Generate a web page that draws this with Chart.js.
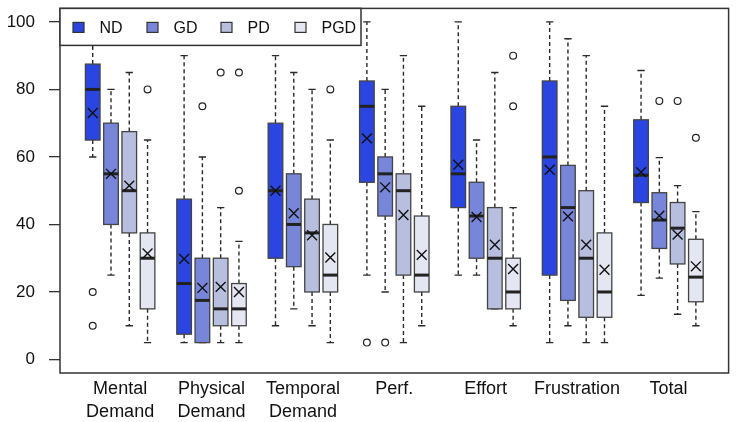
<!DOCTYPE html>
<html>
<head>
<meta charset="utf-8">
<script src="https://cdn.jsdelivr.net/npm/chart.js@4.4.1/dist/chart.umd.min.js"></script>
<style>
  html, body { margin: 0; padding: 0; background: #fff; }
  #wrap { width: 737px; height: 422px; }
</style>
</head>
<body>
<div id="wrap"><canvas id="chart" width="737" height="422"></canvas></div>
<script>
// categories (x axis, two-line labels)
const categories = [
    ['Mental', 'Demand'], ['Physical', 'Demand'], ['Temporal', 'Demand'],
    ['Perf.'], ['Effort'], ['Frustration'], ['Total']
];
const seriesNames = ['ND', 'GD', 'PD', 'PGD'];
const seriesColors = ['#2b46e0', '#7886d9', '#b8bede', '#e4e6f2'];
const yTicks = [0, 20, 40, 60, 80, 100];

// box stats per category: [lower whisker, Q1, median, Q3, upper whisker]
const ndBoxes = [
    [60, 65, 80, 87.5, 100], [5, 7.5, 22.5, 47.5, 90], [10, 30, 50, 70, 90],
    [25, 52.5, 75, 82.5, 100], [25, 45, 55, 75, 100], [5, 25, 60, 82.5, 100],
    [19, 46.5, 54.6, 71, 85.6]
];
const gdBoxes = [
    [25, 40, 55, 70, 80], [5, 5, 17.5, 30, 60], [15, 27.5, 40, 55, 85],
    [20, 42.5, 55, 60, 80], [25, 30, 42.5, 52.5, 65], [10, 17.5, 45, 57.5, 95],
    [24.1, 32.9, 41.3, 49.4, 59.8]
];
const pdBoxes = [
    [10, 37.5, 50, 67.5, 85], [5, 10, 15, 30, 45], [10, 20, 37.5, 47.5, 80],
    [5, 25, 50, 55, 90], [15, 15, 30, 45, 85], [5, 12.5, 30, 50, 90],
    [13.4, 28.3, 38.9, 46.5, 51.5]
];
const pgdBoxes = [
    [5, 15, 30, 37.5, 65], [5, 10, 15, 22.5, 35], [5, 20, 25, 40, 65],
    [10, 20, 25, 42.5, 75], [10, 15, 20, 30, 45], [5, 12.5, 20, 37.5, 75],
    [10, 17.1, 24.4, 35.6, 43.8]
];

// means per category
const ndMeans = [73, 29.8, 50, 65.5, 57.7, 56.2, 55.5];
const gdMeans = [55, 21.2, 43.3, 51, 42.2, 42.4, 42.6];
const pdMeans = [51.5, 21.5, 36.8, 42.8, 34, 34, 37];
const pgdMeans = [31.4, 20, 30.2, 31, 26.8, 26.6, 27.6];

// outliers per category
const ndOutliers = [[20, 10], [], [], [5], [], [], []];
const gdOutliers = [[], [75], [], [5], [], [], [76.6]];
const pdOutliers = [[], [85], [], [], [], [], [76.6]];
const pgdOutliers = [[80], [85, 50], [80], [], [90, 75], [], [65.7]];

const allBoxes = [ndBoxes, gdBoxes, pdBoxes, pgdBoxes];
const allMeans = [ndMeans, gdMeans, pdMeans, pgdMeans];
const allOutliers = [ndOutliers, gdOutliers, pdOutliers, pgdOutliers];

const boxHalf = 0.4;

// position on the x scale: 4 boxes per group, one empty slot between groups
function boxPos(g, s) {
    return g * 5 + s + 1;
}

const groupCenters = categories.map(function(c, g) { return g * 5 + 2.5; });

// scatter datasets for means and outliers
const datasets = [];
allMeans.forEach(function(means, s) {
    datasets.push({
        label: seriesNames[s] + ' mean',
        data: means.map(function(m, g) { return { x: boxPos(g, s), y: m }; }),
        pointStyle: 'crossRot',
        pointRadius: 7,
        borderColor: '#111',
        borderWidth: 1.4,
        backgroundColor: 'transparent'
    });
});
allOutliers.forEach(function(outs, s) {
    const pts = [];
    outs.forEach(function(list, g) {
        list.forEach(function(v) { pts.push({ x: boxPos(g, s), y: v }); });
    });
    datasets.push({
        label: seriesNames[s] + ' outliers',
        data: pts,
        pointStyle: 'circle',
        pointRadius: 3.4,
        borderColor: '#222',
        borderWidth: 1.2,
        backgroundColor: '#fff'
    });
});

const boxPlugin = {
    id: 'boxes',
    beforeDatasetsDraw(chart) {
        const ctx = chart.ctx;
        const x = chart.scales.x, y = chart.scales.y;
        ctx.save();
        allBoxes.forEach(function(boxes, s) {
            boxes.forEach(function(b, g) {
                const pos = boxPos(g, s);
                const cx = x.getPixelForValue(pos);
                const left = x.getPixelForValue(pos - boxHalf);
                const right = x.getPixelForValue(pos + boxHalf);
                const capHalf = (right - left) / 4;
                const lo = y.getPixelForValue(b[0]);
                const q1 = y.getPixelForValue(b[1]);
                const med = y.getPixelForValue(b[2]);
                const q3 = y.getPixelForValue(b[3]);
                const hi = y.getPixelForValue(b[4]);

                // whiskers
                ctx.strokeStyle = '#2a2a2a';
                ctx.lineWidth = 1.4;
                ctx.setLineDash([4, 3]);
                ctx.beginPath();
                ctx.moveTo(cx, q3); ctx.lineTo(cx, hi);
                ctx.moveTo(cx, q1); ctx.lineTo(cx, lo);
                ctx.stroke();
                ctx.setLineDash([]);
                ctx.beginPath();
                ctx.moveTo(cx - capHalf, hi); ctx.lineTo(cx + capHalf, hi);
                ctx.moveTo(cx - capHalf, lo); ctx.lineTo(cx + capHalf, lo);
                ctx.stroke();

                // box
                ctx.fillStyle = seriesColors[s];
                ctx.fillRect(left, q3, right - left, q1 - q3);
                ctx.strokeStyle = '#444';
                ctx.lineWidth = 1.3;
                ctx.strokeRect(left, q3, right - left, q1 - q3);

                // median
                ctx.strokeStyle = '#222';
                ctx.lineWidth = 3;
                ctx.beginPath();
                ctx.moveTo(left, med); ctx.lineTo(right, med);
                ctx.stroke();
            });
        });
        ctx.restore();
    },
    afterDatasetsDraw(chart) {
        const ctx = chart.ctx;
        const area = chart.chartArea;
        ctx.save();
        // frame
        ctx.strokeStyle = '#333';
        ctx.lineWidth = 1.5;
        ctx.strokeRect(area.left, area.top, area.right - area.left, area.bottom - area.top);

        // legend box, top left inside the plot
        const lx = area.left, ly = area.top, lw = 301, lh = 37;
        ctx.fillStyle = '#fff';
        ctx.fillRect(lx, ly, lw, lh);
        ctx.strokeRect(lx, ly, lw, lh);
        ctx.font = '16px "Liberation Sans", Arial, sans-serif';
        ctx.textBaseline = 'middle';
        seriesNames.forEach(function(name, i) {
            const sx = lx + 13 + i * 74;
            const sy = ly + 19;
            ctx.fillStyle = seriesColors[i];
            ctx.fillRect(sx, sy - 5, 11, 10);
            ctx.strokeStyle = '#333';
            ctx.lineWidth = 1.2;
            ctx.strokeRect(sx, sy - 5, 11, 10);
            ctx.fillStyle = '#111';
            ctx.fillText(name, sx + 26.5, sy + 1);
        });
        ctx.restore();
    }
};

new Chart(document.getElementById('chart'), {
    type: 'scatter',
    data: { datasets: datasets },
    options: {
        responsive: false,
        animation: false,
        layout: { padding: { top: 2, right: 1, left: 0, bottom: 0 } },
        plugins: {
            legend: { display: false },
            tooltip: { enabled: false }
        },
        scales: {
            x: {
                type: 'linear',
                min: -0.79,
                max: 35.79,
                afterBuildTicks: function(scale) {
                    scale.ticks = groupCenters.map(function(v) { return { value: v }; });
                },
                afterFit: function(scale) {
                    scale.height = 49;
                    scale.paddingLeft = 0;
                    scale.paddingRight = 0;
                },
                grid: { display: false, drawTicks: false },
                border: { display: false },
                ticks: {
                    autoSkip: false,
                    maxRotation: 0,
                    padding: 5,
                    color: '#111',
                    font: { family: '"Liberation Sans", Arial, sans-serif', size: 18, lineHeight: 1.26 },
                    callback: function(value, index) { return categories[index]; }
                }
            },
            y: {
                type: 'linear',
                min: -4,
                max: 104,
                afterBuildTicks: function(scale) {
                    scale.ticks = yTicks.map(function(v) { return { value: v }; });
                },
                afterFit: function(scale) {
                    scale.width = 60;
                    scale.paddingTop = 0;
                    scale.paddingBottom = 0;
                },
                grid: { display: true, drawOnChartArea: false, tickLength: 11, color: '#333', lineWidth: 1.3 },
                border: { display: false },
                ticks: {
                    padding: 14,
                    color: '#111',
                    font: { family: '"Liberation Sans", Arial, sans-serif', size: 17 }
                }
            }
        }
    },
    plugins: [boxPlugin]
});
</script>
</body>
</html>
